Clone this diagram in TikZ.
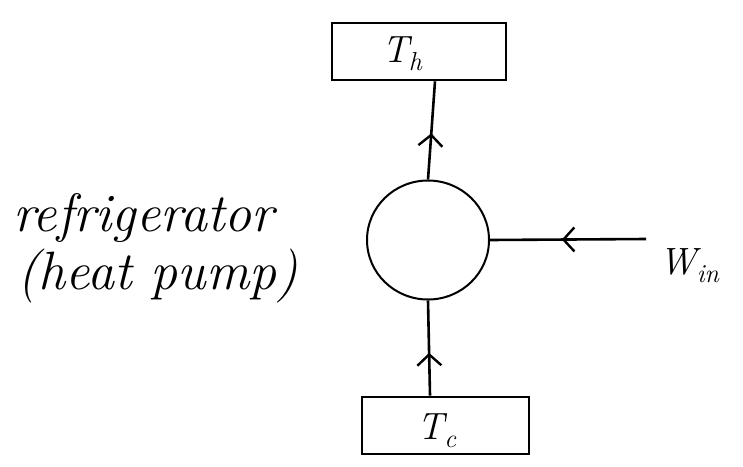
\documentclass[tikz,border=0pt]{standalone}
\usetikzlibrary{decorations.markings,arrows.meta,calc,shapes.geometric}
\newcommand{\lowsub}[1]{\raisebox{-8pt}{\fontsize{26}{28}\selectfont\itshape #1}}
\begin{document}
\begin{tikzpicture}[x=1pt,y=-1pt,line width=2.6pt,
  res/.style={draw, minimum width=#1, minimum height=57pt, inner sep=0pt},
  big/.style={font=\fontsize{38}{44}\selectfont\itshape},
  hand/.style={font=\fontsize{54}{60}\selectfont\itshape, anchor=west, inner sep=0pt},
  midarrow/.style={postaction={decorate}, decoration={markings,
    mark=at position #1 with {\arrow{Straight Barb[length=11pt,width=24pt,line width=2.4pt]}}}}]
\useasboundingbox (0,0) rectangle (743,466);
\node[res=174pt] (th) at (419,51.5) {};
\node[big] (thl) at (402,54) {T\lowsub{h}};
\node[res=167pt] (tc) at (445.5,425.5) {};
\node[big] (tcl) at (437,431) {T\lowsub{c}};
\node[draw, ellipse, minimum width=122pt, minimum height=119pt, inner sep=0pt, line width=2pt] (c) at (428,240) {};
\coordinate (thin) at ($(th.south)+(16,0)$);
\coordinate (tcout) at ($(tc.north)+(-15.5,0)$);
\coordinate (wsrc) at (646,239);
\draw[midarrow=0.47] (c.north) -- (thin);
\draw[midarrow=0.45] (tcout) -- (c.south);
\draw[midarrow=0.54] (wsrc) -- (c.east);
\node[big, anchor=west] (w) at (655,266) {W\lowsub{in}};
\node[hand] (r1) at (12,218) {refrigerator};
\node[hand] (r2) at (16,276) {(heat pump)};
\end{tikzpicture}
\end{document}
